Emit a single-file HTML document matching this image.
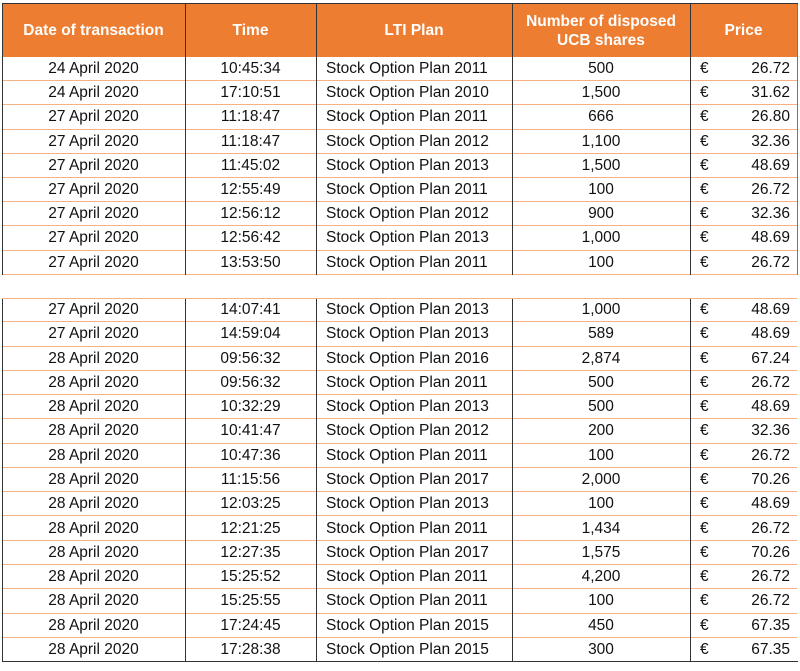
<!DOCTYPE html>
<html><head><meta charset="utf-8">
<style>
body{margin:0;width:800px;height:671px;background:#fff;position:relative;overflow:hidden;font-family:"Liberation Sans",Arial,sans-serif;}
.hdr{position:absolute;top:4px;height:53px;background:#ED7D31;color:#fff;font-weight:bold;font-size:15.5px;display:flex;align-items:center;justify-content:center;text-align:center;line-height:19px;box-sizing:border-box;}
.cell{position:absolute;font-size:15.5px;color:#111;display:flex;align-items:center;box-sizing:border-box;white-space:nowrap;}
.hl{position:absolute;height:1px;background:#F4B183;}
.vl{position:absolute;width:1px;background:#333;}
</style></head><body>
<div id="tbl"></div>
<script>
var dates=["24 April 2020","24 April 2020","27 April 2020","27 April 2020","27 April 2020","27 April 2020","27 April 2020","27 April 2020","27 April 2020","27 April 2020","27 April 2020","28 April 2020","28 April 2020","28 April 2020","28 April 2020","28 April 2020","28 April 2020","28 April 2020","28 April 2020","28 April 2020","28 April 2020","28 April 2020","28 April 2020","28 April 2020"];
var times=["10:45:34","17:10:51","11:18:47","11:18:47","11:45:02","12:55:49","12:56:12","12:56:42","13:53:50","14:07:41","14:59:04","09:56:32","09:56:32","10:32:29","10:41:47","10:47:36","11:15:56","12:03:25","12:21:25","12:27:35","15:25:52","15:25:55","17:24:45","17:28:38"];
var plans=[2011,2010,2011,2012,2013,2011,2012,2013,2011,2013,2013,2016,2011,2013,2012,2011,2017,2013,2011,2017,2011,2011,2015,2015];
var shares=["500","1,500","666","1,100","1,500","100","900","1,000","100","1,000","589","2,874","500","500","200","100","2,000","100","1,434","1,575","4,200","100","450","300"];
var prices=["26.72","31.62","26.80","32.36","48.69","26.72","32.36","48.69","26.72","48.69","48.69","67.24","26.72","48.69","32.36","26.72","70.26","48.69","26.72","70.26","26.72","26.72","67.35","67.35"];
var cols=[2,185,316,512,690,797];
var heads=["Date of transaction","Time","LTI Plan","Number of disposed<br>UCB shares","Price"];
var root=document.getElementById('tbl');
function mk(cls,l,t,w,h){var d=document.createElement('div');d.className=cls;d.style.left=l+'px';d.style.top=t+'px';if(w!=null)d.style.width=w+'px';if(h!=null)d.style.height=h+'px';root.appendChild(d);return d;}
var tableTop=mk('vl',2,3,796,1);


for(var c=0;c<5;c++){var hd=mk('hdr',cols[c],4,cols[c+1]-cols[c],null);hd.innerHTML=heads[c];

}
function rowTop(i){return i<9?57+i*24.2:298+(i-9)*24.27;}
for(var i=0;i<24;i++){
 var t=rowTop(i),rh=i<9?24.2:24.27;
 var vals=[dates[i],times[i],"Stock Option Plan "+plans[i],shares[i]];
 for(var c2=0;c2<4;c2++){var d=mk('cell',cols[c2],t,cols[c2+1]-cols[c2],rh);d.textContent=vals[c2];
  if(c2==2){d.style.paddingLeft='10px';}else{d.style.justifyContent='center';}
  
  }
 var e=mk('cell',700,t,20,rh);e.textContent='€';
 
 
 var p=mk('cell',720,t,70,rh);p.textContent=prices[i];p.style.justifyContent='flex-end';
 
 
 var ln=mk('hl',2,Math.round(t+rh)-1,795,null);
 
 
}
var g=mk('hl',2,298,795,null);


[[4,275],[299,662]].forEach(function(b){
 for(var k=0;k<6;k++){if(k==5&&b[0]>4)continue;var v=mk('vl',cols[k],b[0],null,b[1]-b[0]);if(k==5)v.style.background='#777';
 
 }
});
var bb=mk('vl',2,661,796,1);


</script>
</body></html>
